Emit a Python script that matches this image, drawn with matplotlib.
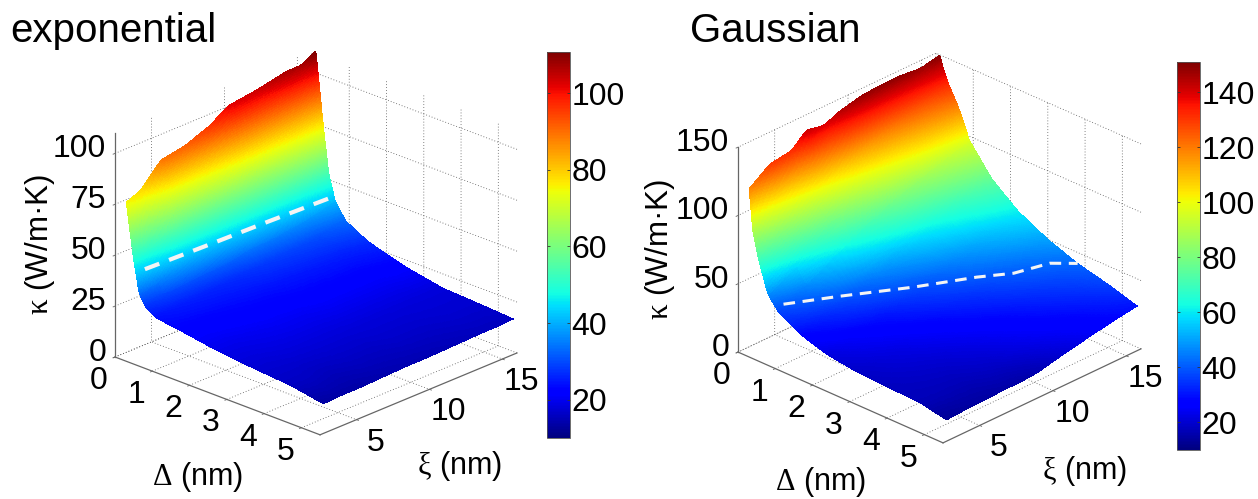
import numpy as np
import matplotlib
matplotlib.use("Agg")
import matplotlib.pyplot as plt
from matplotlib.cm import ScalarMappable
from matplotlib.colors import Normalize
from mpl_toolkits.mplot3d import proj3d

plt.rcParams['font.family'] = ['Liberation Sans', 'DejaVu Sans']
plt.rcParams['mathtext.fontset'] = 'custom'
plt.rcParams['mathtext.rm'] = 'Liberation Serif'
plt.rcParams['mathtext.it'] = 'Liberation Serif'
plt.rcParams['mathtext.bf'] = 'Liberation Serif:bold'

W, H = 1258, 499

# ---- data ----
delta_ticks = [0, 1, 2, 3, 4, 5]
xi_ticks = [5, 10, 15]
exp_kappa_ticks = [0, 25, 50, 75, 100]
gau_kappa_ticks = [0, 50, 100, 150]
exp_cbar_ticks = [20, 40, 60, 80, 100]
gau_cbar_ticks = [20, 40, 60, 80, 100, 120, 140]

exp_delta = [0.1, 0.3, 0.45, 0.62, 0.9, 1.5, 2.5, 3.5, 4.5, 5.4]
exp_xi = [3, 4, 5.4, 7, 8.75, 10, 12, 14, 15, 16]
exp_kappa = [
    [76, 79, 90, 92, 97, 103, 105, 108, 108, 112],
    [49, 51, 57, 59, 62, 65, 68, 72, 74, 76],
    [33, 35, 38, 40, 42, 44, 46, 49, 51, 53],
    [27.5, 29, 30, 31, 32, 34, 35, 37, 39, 41],
    [24, 25, 25.5, 26, 27, 28, 29, 30, 31.5, 33],
    [22.5, 22.5, 23, 23.5, 24, 24.5, 25, 25.5, 26, 27],
    [19.5, 19.5, 20, 20.5, 20.5, 21, 21, 21, 21.5, 21.5],
    [17.5, 17.5, 18, 18, 18, 18, 18, 18, 18, 18],
    [16, 16, 15.5, 16, 16, 16.5, 16.5, 17, 17, 17],
    [13, 13.5, 13.5, 14, 14.5, 14.5, 15, 15.5, 15.5, 16],
]
exp_line_delta = [0.41, 0.5, 0.58, 0.67]
exp_line_xi = [3.5, 7.5, 11.5, 15.5]
exp_line_kappa = [43, 43.3, 43.7, 44]

gau_delta = [0.1, 0.2, 0.35, 0.6, 0.9, 1.5, 2.2, 3, 3.8, 4.7, 5.4]
gau_xi = [3, 4.4, 5.9, 6.9, 8.1, 9.2, 10.8, 13.1, 14.7, 16]
gau_kappa = [
    [119, 130, 132, 142, 139, 144, 148, 149, 147, 150],
    [88, 102, 112, 120, 125, 130, 134, 137, 139, 141],
    [70, 80, 91, 97, 104, 110, 116, 123, 127, 131],
    [47, 57, 68, 75, 84, 91, 99, 108, 114, 118],
    [37, 44, 53, 59, 66, 72, 80, 88, 93, 97],
    [28, 32, 37, 41, 46, 50, 57, 66, 72, 76],
    [22, 25, 28, 30, 34, 37, 43, 51, 57, 61],
    [19, 21, 23, 25, 27, 30, 34, 41, 46, 50],
    [18, 19, 20, 21, 23, 25, 28, 34, 38, 42],
    [17, 17, 17, 18, 19, 21, 24, 28, 32, 36],
    [13, 14, 14.5, 15, 15, 16, 20, 25, 28, 30],
]
gau_line_delta = [0.67, 1.3, 2.09, 2.72, 3.16, 3.41, 3.8]
gau_line_xi = [3.9, 6.15, 9.12, 11.86, 13.27, 15.1, 16]
gau_line_kappa = [36, 38, 39, 40, 41, 42, 42]


def smooth(a, n, axis):
    k = np.ones(n) / n
    pad = n // 2
    def f(v):
        return np.convolve(np.pad(v, pad, mode='edge'), k, mode='valid')
    return np.apply_along_axis(f, axis, a)


def refine(delta, xi, table):
    """Resample the read table on a fine mesh so the flat facets shade smoothly."""
    table = np.asarray(table, float)
    sub = 32
    n = len(delta)
    d = np.interp(np.linspace(0, n - 1, (n - 1) * sub + 1), np.arange(n), delta)
    x = np.linspace(xi[0], xi[-1], 170)
    rows = np.array([np.interp(x, xi, r) for r in table])
    z = np.array([np.interp(d, delta, c) for c in rows.T]).T
    z = smooth(z, 5, 1)
    z = smooth(z, 9, 0)
    X, Y = np.meshgrid(d, x, indexing='ij')
    return X, Y, z


def to_px(ax, x, y, z):
    ax.apply_aspect()
    X, Y, _ = proj3d.proj_transform(x, y, z, ax.get_proj())
    p = ax.transData.transform((X, Y))
    return p[0], H - p[1]


def panel(delta, xi, kappa, ld, lx, lk, zmax, zticks, azim, elev, L, centre,
          span, vmin, vmax, lw, dash, z_pos, d_off, x_off):
    S = 700
    ax = fig.add_axes([0, 0, S / W, S / H], projection='3d', proj_type='ortho',
                      computed_zorder=False)
    ax.patch.set_alpha(0)
    ax.view_init(elev=elev, azim=azim)
    ax.set_xlim(0, 5.5, view_margin=0)
    ax.set_ylim(2.5, 16, view_margin=0)
    ax.set_zlim(0, zmax, view_margin=0)
    zoom = 1.0
    for _ in range(3):
        ax.set_box_aspect(L, zoom=zoom)
        a = to_px(ax, 0, 2.5, 0)
        b = to_px(ax, 5.5, 2.5, 0)
        zoom *= span / (b[0] - a[0])
    ax.set_box_aspect(L, zoom=zoom)
    c = to_px(ax, 2.75, 9.25, zmax / 2)
    pos = ax.get_position()
    ax.set_position([pos.x0 + (centre[0] - c[0]) / W, pos.y0 - (centre[1] - c[1]) / H,
                     pos.width, pos.height])

    X, Y, Z = refine(delta, xi, kappa)
    norm = Normalize(vmin, vmax)
    ax.plot_surface(X, Y, Z, rstride=1, cstride=1, facecolors=plt.cm.jet(norm(Z)),
                    shade=False, antialiased=False, linewidth=0, zorder=2)
    ax.plot(ld, lx, lk, color='#f4f4f4', lw=lw, ls=(0, dash), zorder=5,
            dash_capstyle='butt')

    ax.set_xticks(delta_ticks)
    ax.set_yticks(xi_ticks)
    ax.set_zticks(zticks)
    ax.set_xticklabels([])
    ax.set_yticklabels([])
    ax.set_zticklabels([])
    for axis in (ax.xaxis, ax.yaxis, ax.zaxis):
        axis.pane.set_visible(False)
        axis.line.set_color('#666666')
        axis.line.set_linewidth(0.9)
        axis._axinfo['grid'].update(color='#555555', linewidth=0.6, linestyle=(0, (1, 2.5)))
        axis._axinfo['tick'].update(inward_factor=0.12, outward_factor=0.0)
        axis._axinfo['tick']['linewidth'] = {True: 0.6, False: 0.6}
    ax.zaxis.set_ticks_position('lower')
    ax.tick_params(colors='#666666')

    for t in delta_ticks:
        px, py = to_px(ax, t, 2.5, 0)
        put(px + d_off[0], py + d_off[1], str(t), ha='center')
    for t in xi_ticks:
        px, py = to_px(ax, 5.5, t, 0)
        put(px + x_off[0], py + x_off[1], str(t), ha='center')
    for t in zticks:
        px, py = to_px(ax, 0, 2.5, t)
        put(px + z_pos, py - 4, str(t), ha='right')
    return ax


def put(px, py, s, ha='center', rotation=0, size=23):
    fig.text(px / W, 1 - py / H, s, ha=ha, va='center', rotation=rotation, size=size,
             color='black')


def bar(x0, x1, y0, y1, vmin, vmax, ticks):
    cax = fig.add_axes([x0 / W, 1 - y1 / H, (x1 - x0) / W, (y1 - y0) / H])
    cb = fig.colorbar(ScalarMappable(Normalize(vmin, vmax), 'jet'), cax=cax)
    cb.set_ticks(ticks)
    cb.outline.set_linewidth(0.6)
    cb.outline.set_edgecolor('#555555')
    cax.tick_params(direction='in', length=2.5, width=0.6, color='#333333', left=True,
                    right=True, pad=1, labelsize=23)


fig = plt.figure(figsize=(W / 100, H / 100), dpi=100)

panel(exp_delta, exp_xi, exp_kappa, exp_line_delta, exp_line_xi, exp_line_kappa,
      110, exp_kappa_ticks, -46.3, 23.4, (283.5, 285, 244), (316, 243), 205,
      10, 110.7, 3.0, (3.7, 2.5), -9, (-16, 24), (19, 23))
panel(gau_delta, gau_xi, gau_kappa, gau_line_delta, gau_line_xi, gau_line_kappa,
      150, gau_kappa_ticks, -46, 27.3, (285, 285, 230.6), (939.5, 248), 205,
      10, 150.9, 2.2, (3.8, 2.5), -9, (-16, 24), (19, 23))

bar(547, 570, 52, 438, 10, 110.7, exp_cbar_ticks)
bar(1177, 1200, 62, 450, 10, 150.9, gau_cbar_ticks)

put(10, 31, 'exponential', ha='left', size=29)
put(690, 31, 'Gaussian', ha='left', size=29)
put(40, 245, r'$\kappa$ (W/m·K)', rotation=90, size=22.5)
put(660, 250, r'$\kappa$ (W/m·K)', rotation=90, size=22.5)
put(197, 477, r'$\mathrm{\Delta}$ (nm)', size=22)
put(820, 482, r'$\mathrm{\Delta}$ (nm)', size=22)
put(459, 466, r'$\mathrm{\xi}$ (nm)', size=22)
put(1084, 471, r'$\mathrm{\xi}$ (nm)', size=22)

fig.savefig('out.png', dpi=100)
